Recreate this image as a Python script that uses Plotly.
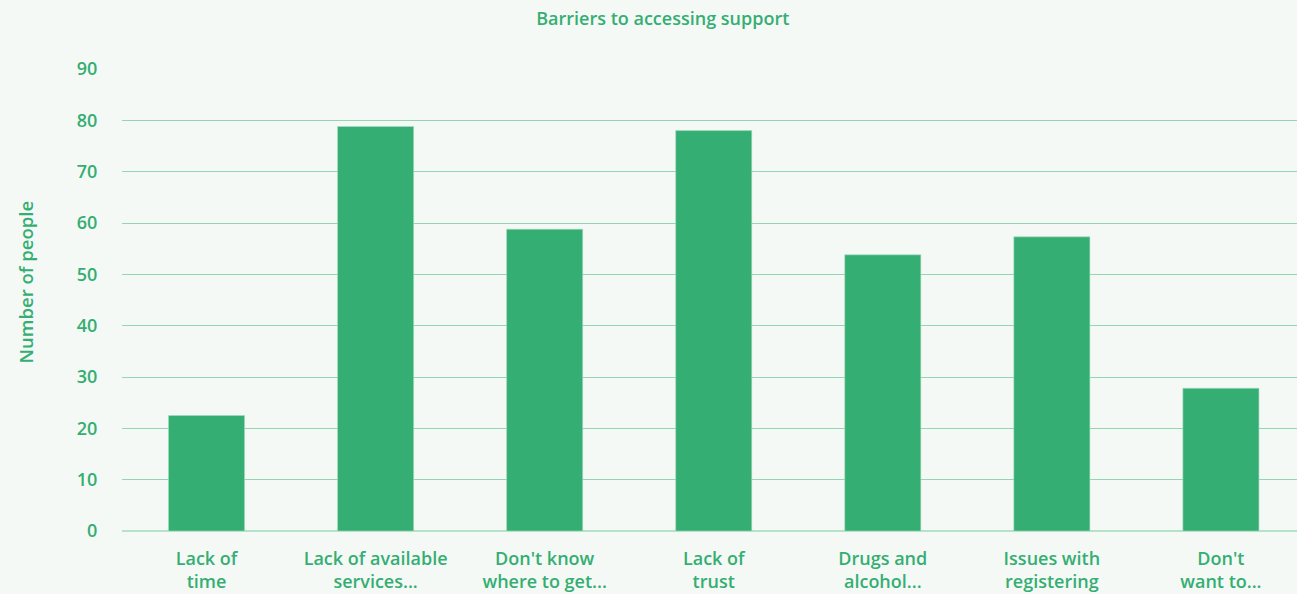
import plotly.graph_objects as go

categories = ["Lack of<br>time", "Lack of available<br>services...", "Don't know<br>where to get...",
              "Lack of<br>trust", "Drugs and<br>alcohol...", "Issues with<br>registering", "Don't<br>want to..."]
values = [22.5, 78.8, 58.8, 78.0, 53.8, 57.3, 27.8]
y_ticks = [0, 10, 20, 30, 40, 50, 60, 70, 80, 90]
y_title = "Number of people"

GREEN = "#34ae72"
BG = "#f5f9f6"
GRID = "#92d6b2"
FONT = "Open Sans"

fig = go.Figure(go.Bar(
    x=list(range(len(categories))), y=values,
    marker=dict(color=GREEN, line=dict(color="#a8dcc0", width=0.6)),
    width=0.45,
))

fig.update_layout(
    width=1297, height=594,
    paper_bgcolor=BG, plot_bgcolor=BG,
    margin=dict(l=122, r=0, t=69, b=63),
    showlegend=False,
    title=dict(text="Barriers to accessing support", x=0.511, xanchor="center",
               y=0.968, yanchor="middle",
               font=dict(family=FONT, size=18, color=GREEN, weight=600)),
    font=dict(family=FONT, color=GREEN),
)
fig.add_annotation(
    text=y_title, textangle=-90, xref="paper", yref="paper",
    x=-0.0826, y=0.538, xanchor="center", yanchor="middle", showarrow=False,
    font=dict(family=FONT, size=18.5, color=GREEN, weight=600),
)
fig.update_xaxes(
    tickmode="array", tickvals=list(range(len(categories))), ticktext=categories,
    range=[-0.5, 6.45], showgrid=False, zeroline=False, showline=False,
    tickfont=dict(family=FONT, size=18, color=GREEN, weight=600),
    ticks="outside", ticklen=11, tickcolor="rgba(0,0,0,0)",
)
fig.update_yaxes(
    range=[0, 90], tickvals=y_ticks, showgrid=True, gridcolor=GRID, gridwidth=1,
    zeroline=True, zerolinecolor="#b5e2c8", zerolinewidth=2, showline=False,
    tickfont=dict(family=FONT, size=18, color=GREEN, weight=600),
    ticks="outside", ticklen=20, tickcolor="rgba(0,0,0,0)",
)

fig.write_html("out.html", config={"displayModeBar": False},
               post_script="document.body.style.margin='0';document.body.style.background='%s';" % BG)
